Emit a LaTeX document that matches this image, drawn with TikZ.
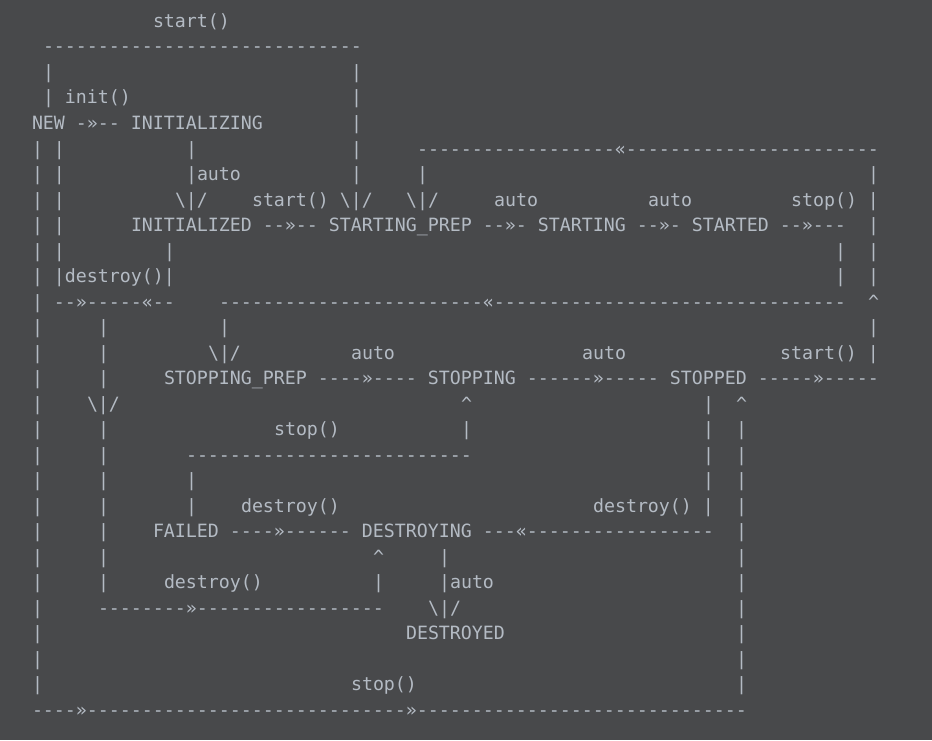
\documentclass[tikz,border=0pt]{standalone}
\usepackage{fontspec}
\setmonofont{DejaVu Sans Mono}
\definecolor{bg}{HTML}{48494B}
\definecolor{fg}{HTML}{B4BBC4}
\newcommand\bs{\textbackslash}
\newcommand\seg[3]{\node[txt] (L#1c#2) at ({32+#2*11},{27.4+#1*25.52}) {#3};}
\tikzset{txt/.style={anchor=base west, inner sep=0pt, outer sep=0pt, text=fg,
  font=\ttfamily\fontsize{18.27}{25}\selectfont\frenchspacing}}
\begin{document}
\begin{tikzpicture}[x=1pt,y=-1pt]
\fill[bg] (0,0) rectangle (932,740);
\useasboundingbox (0,0) rectangle (932,740);
\seg{0}{11}{start()}
\seg{1}{1}{-----------------------------}
\seg{2}{1}{|}\seg{2}{29}{|}
\seg{3}{1}{| init()}\seg{3}{29}{|}
\seg{4}{0}{NEW -»-- INITIALIZING}\seg{4}{29}{|}
\seg{5}{0}{| |}\seg{5}{14}{|}\seg{5}{29}{|}\seg{5}{35}{------------------«-----------------------}
\seg{6}{0}{| |}\seg{6}{14}{|auto}\seg{6}{29}{|}\seg{6}{35}{|}\seg{6}{76}{|}
\seg{7}{0}{| |}\seg{7}{13}{\bs|/}\seg{7}{20}{start() \bs|/}\seg{7}{34}{\bs|/}\seg{7}{42}{auto}\seg{7}{56}{auto}\seg{7}{69}{stop() |}
\seg{8}{0}{| |}\seg{8}{9}{INITIALIZED --»-- STARTING\_PREP --»- STARTING --»- STARTED --»---}\seg{8}{76}{|}
\seg{9}{0}{| |}\seg{9}{12}{|}\seg{9}{73}{|}\seg{9}{76}{|}
\seg{10}{0}{| |destroy()|}\seg{10}{73}{|}\seg{10}{76}{|}
\seg{11}{0}{| --»-----«--}\seg{11}{17}{------------------------«--------------------------------}\seg{11}{76}{\textasciicircum}
\seg{12}{0}{|}\seg{12}{6}{|}\seg{12}{17}{|}\seg{12}{76}{|}
\seg{13}{0}{|}\seg{13}{6}{|}\seg{13}{16}{\bs|/}\seg{13}{29}{auto}\seg{13}{50}{auto}\seg{13}{68}{start() |}
\seg{14}{0}{|}\seg{14}{6}{|}\seg{14}{12}{STOPPING\_PREP ----»---- STOPPING ------»----- STOPPED -----»-----}
\seg{15}{0}{|}\seg{15}{5}{\bs|/}\seg{15}{39}{\textasciicircum}\seg{15}{61}{|}\seg{15}{64}{\textasciicircum}
\seg{16}{0}{|}\seg{16}{6}{|}\seg{16}{22}{stop()}\seg{16}{39}{|}\seg{16}{61}{|}\seg{16}{64}{|}
\seg{17}{0}{|}\seg{17}{6}{|}\seg{17}{14}{--------------------------}\seg{17}{61}{|}\seg{17}{64}{|}
\seg{18}{0}{|}\seg{18}{6}{|}\seg{18}{14}{|}\seg{18}{61}{|}\seg{18}{64}{|}
\seg{19}{0}{|}\seg{19}{6}{|}\seg{19}{14}{|}\seg{19}{19}{destroy()}\seg{19}{51}{destroy() |}\seg{19}{64}{|}
\seg{20}{0}{|}\seg{20}{6}{|}\seg{20}{11}{FAILED ----»------ DESTROYING ---«-----------------}\seg{20}{64}{|}
\seg{21}{0}{|}\seg{21}{6}{|}\seg{21}{31}{\textasciicircum}\seg{21}{37}{|}\seg{21}{64}{|}
\seg{22}{0}{|}\seg{22}{6}{|}\seg{22}{12}{destroy()}\seg{22}{31}{|}\seg{22}{37}{|auto}\seg{22}{64}{|}
\seg{23}{0}{|}\seg{23}{6}{--------»-----------------}\seg{23}{36}{\bs|/}\seg{23}{64}{|}
\seg{24}{0}{|}\seg{24}{34}{DESTROYED}\seg{24}{64}{|}
\seg{25}{0}{|}\seg{25}{64}{|}
\seg{26}{0}{|}\seg{26}{29}{stop()}\seg{26}{64}{|}
\seg{27}{0}{----»-----------------------------»------------------------------}
\end{tikzpicture}
\end{document}
